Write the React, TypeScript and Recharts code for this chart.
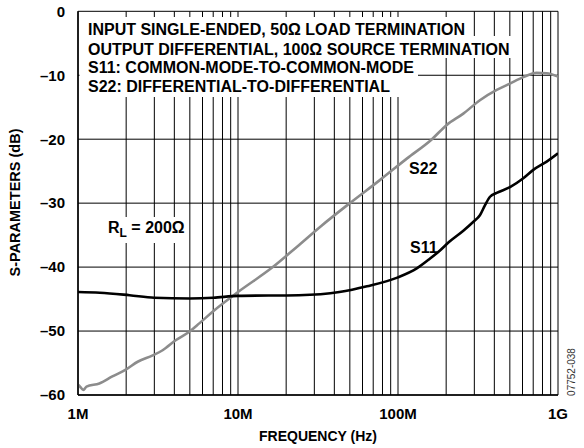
import React from 'react';
import { ComposedChart, Line, XAxis, YAxis, CartesianGrid, Customized } from 'recharts';

// ---- data ----
const S11_FREQ = [1e6, 1.37e6, 2.1e6, 3e6, 5e6, 7e6, 10e6, 24e6, 43e6, 64e6, 100e6, 131e6, 158e6, 183e6, 210e6, 256e6, 296e6, 325e6, 350e6, 376e6, 414e6, 501e6, 607e6, 701e6, 850e6, 1e9];
const S11_DB = [-43.9, -44.0, -44.4, -44.8, -44.9, -44.8, -44.5, -44.4, -43.9, -43.0, -41.6, -40.2, -38.7, -37.4, -36.0, -34.3, -32.9, -31.9, -30.3, -29.0, -28.4, -27.5, -26.1, -24.8, -23.5, -22.2];

const S22_FREQ = [1e6, 1.03e6, 1.08e6, 1.13e6, 1.36e6, 1.64e6, 2e6, 2.36e6, 2.93e6, 3.38e6, 4.1e6, 4.96e6, 5.73e6, 7e6, 10e6, 16.5e6, 23.4e6, 33e6, 50e6, 77e6, 114e6, 163e6, 201e6, 256e6, 325e6, 414e6, 501e6, 607e6, 735e6, 850e6, 1e9];
const S22_DB = [-58.4, -58.7, -59.2, -58.7, -58.2, -57.1, -56.0, -54.8, -53.8, -53.0, -51.4, -50.1, -48.8, -46.9, -43.9, -40.0, -36.8, -33.6, -30.0, -26.4, -23.0, -20.0, -17.8, -16.0, -13.9, -12.3, -11.3, -10.3, -9.6, -9.7, -10.2];

const X_DECADES = [1e6, 1e7, 1e8];
const X_MANTISSAS = [1, 2, 3, 4, 5, 6, 7, 8, 9];
const X_LABEL_VALUES = [1e6, 1e7, 1e8, 1e9];
const X_LABELS = ['1M', '10M', '100M', '1G'];
const Y_TICKS = [-60, -50, -40, -30, -20, -10, 0];
const Y_LABELS = ['–60', '–50', '–40', '–30', '–20', '–10', '0'];

const NOTE_LINES = [
  'INPUT SINGLE-ENDED, 50Ω LOAD TERMINATION',
  'OUTPUT DIFFERENTIAL, 100Ω SOURCE TERMINATION',
  'S11: COMMON-MODE-TO-COMMON-MODE',
  'S22: DIFFERENTIAL-TO-DIFFERENTIAL',
];
const X_TITLE = 'FREQUENCY (Hz)';
const Y_TITLE = 'S-PARAMETERS (dB)';
const FIG_ID = '07752-038';

const X_TICKS = [...X_DECADES.flatMap((d) => X_MANTISSAS.map((m) => m * d)), 1e9];

const s11Data = S11_FREQ.map((f, i) => ({ f, db: S11_DB[i] }));
const s22Data = S22_FREQ.map((f, i) => ({ f, db: S22_DB[i] }));

const FONT = '"Liberation Sans", Arial, Helvetica, sans-serif';

const XTick = (props: any) => {
  const { x, y, payload } = props;
  const i = X_LABEL_VALUES.findIndex((v) => Math.abs(v - payload.value) / v < 1e-6);
  if (i < 0) return <g />;
  return (
    <text x={x} y={y + 23.5} textAnchor="middle" fontFamily={FONT} fontWeight="bold" fontSize={15} fill="#000">
      {X_LABELS[i]}
    </text>
  );
};

const YTick = (props: any) => {
  const { x, y, payload } = props;
  const i = Y_TICKS.indexOf(payload.value);
  return (
    <text x={x} y={y} dy="0.355em" textAnchor="end" fontFamily={FONT} fontWeight="bold" fontSize={15} fill="#000">
      {i >= 0 ? Y_LABELS[i] : ''}
    </text>
  );
};

const NOTE_BOXES = [
  { x2: 467, y1: 17, y2: 36 },
  { x2: 512, y1: 36, y2: 58 },
  { x2: 418, y1: 58, y2: 77 },
  { x2: 400, y1: 77, y2: 97 },
];
const NOTE_BASELINES = [35, 55, 73.3, 92.3];

const Overlay = () => (
  <g>
    {NOTE_BOXES.map((b, i) => (
      <rect key={'b' + i} x={79.5} y={b.y1} width={b.x2 - 79.5} height={b.y2 - b.y1} fill="#fff" />
    ))}
    {NOTE_LINES.map((t, i) => (
      <text key={'t' + i} x={88} y={NOTE_BASELINES[i]} fontFamily={FONT} fontWeight="bold" fontSize={16} fill="#000">
        {t}
      </text>
    ))}
    <rect x={104} y={217} width={84} height={26} fill="#fff" />
    <text x={108} y={233} fontFamily={FONT} fontWeight="bold" fontSize={16} fill="#000">
      <tspan>R</tspan>
      <tspan fontSize={12} dy={3.5}>L</tspan>
      <tspan dy={-3.5}> = 200Ω</tspan>
    </text>
    <text x={409} y={174} fontFamily={FONT} fontWeight="bold" fontSize={16} fill="#000">S22</text>
    <text x={410} y={253} fontFamily={FONT} fontWeight="bold" fontSize={16} fill="#000">S11</text>
    <text x={318} y={441} textAnchor="middle" fontFamily={FONT} fontWeight="bold" fontSize={14} fill="#000">
      {X_TITLE}
    </text>
    <text transform="translate(20,202.5) rotate(-90)" textAnchor="middle" fontFamily={FONT} fontWeight="bold" fontSize={14.5} fill="#000">
      {Y_TITLE}
    </text>
    <text transform="translate(574.5,372) rotate(-90)" textAnchor="middle" fontFamily={FONT} fontSize={10} fill="#333">
      {FIG_ID}
    </text>
  </g>
);

export default function App() {
  return (
    <div style={{ position: 'absolute', left: 0, top: 0, width: 584, height: 448 }}>
      <ComposedChart width={584} height={448} margin={{ top: 11.3, right: 26, bottom: 0, left: 0 }}>
        <CartesianGrid stroke="#000" strokeWidth={1} strokeOpacity={1} />
        <XAxis
          dataKey="f"
          type="number"
          scale="log"
          domain={[1e6, 1e9]}
          ticks={X_TICKS}
          interval={0}
          allowDataOverflow
          height={53}
          tickSize={0}
          tickMargin={0}
          tickLine={false}
          axisLine={{ stroke: '#000', strokeWidth: 1.5 }}
          tick={<XTick />}
        />
        <YAxis
          type="number"
          domain={[-60, 0]}
          ticks={Y_TICKS}
          interval={0}
          allowDataOverflow
          width={78}
          tickSize={0}
          tickMargin={13}
          tickLine={false}
          axisLine={{ stroke: '#000', strokeWidth: 1.5 }}
          tick={<YTick />}
        />
        <Line data={s22Data} dataKey="db" type="monotone" stroke="#8c8c8c" strokeWidth={2.6} dot={false} isAnimationActive={false} />
        <Line data={s11Data} dataKey="db" type="monotone" stroke="#000" strokeWidth={2.6} dot={false} isAnimationActive={false} />
        <Customized component={Overlay} />
      </ComposedChart>
    </div>
  );
}
